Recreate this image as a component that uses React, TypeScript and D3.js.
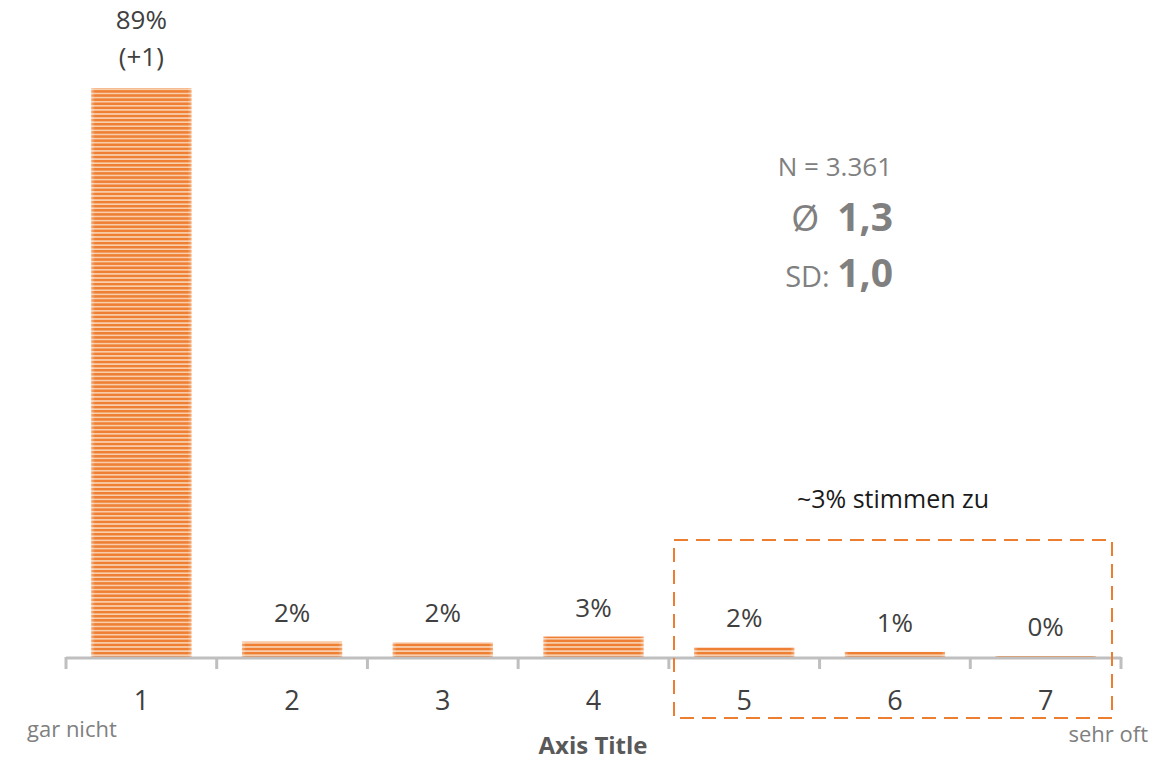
import React from "react";
import * as d3 from "d3";

const categories = ["1", "2", "3", "4", "5", "6", "7"];
const values = [89, 2.4, 2.3, 3.2, 1.5, 0.8, 0.15];
const valueLabels = ["89%", "2%", "2%", "3%", "2%", "1%", "0%"];
const topExtra = "(+1)";
const statsN = "N = 3.361";
const statsMean = "1,3";
const statsSD = "1,0";
const agreeText = "~3% stimmen zu";
const axisTitle = "Axis Title";
const leftAnchor = "gar nicht";
const rightAnchor = "sehr oft";

const W = 1170;
const H = 761;
const FONT = "'Open Sans', 'Noto Sans', sans-serif";

export default function App() {
  const x = d3.scaleBand<string>().domain(categories).range([66, 1121]).paddingInner(0.335).paddingOuter(0.1675);
  const y = d3.scaleLinear().domain([0, 100]).range([657, 18]);
  const step = x.step();
  const edges = categories.map((c) => (x(c) as number) - (step - x.bandwidth()) / 2);
  edges.push(edges[edges.length - 1] + step);
  const base = y(0);

  return (
    <svg width={W} height={H} style={{ position: "absolute", left: 0, top: 0 }}>
      <defs>
        <pattern id="stripes" patternUnits="userSpaceOnUse" width="8" height="4.1">
          <rect width="8" height="4.1" fill="#F9CFAE" />
          <rect width="8" height="2.5" fill="#EE7F33" />
        </pattern>
        <linearGradient id="edge" x1="0" x2="1" y1="0" y2="0">
          <stop offset="0" stopColor="#fff" stopOpacity="0.35" />
          <stop offset="0.04" stopColor="#fff" stopOpacity="0" />
          <stop offset="0.96" stopColor="#fff" stopOpacity="0" />
          <stop offset="1" stopColor="#fff" stopOpacity="0.35" />
        </linearGradient>
      </defs>
      <rect width={W} height={H} fill="#fff" />
      {categories.map((c, i) => {
        const top = y(values[i]);
        const h = base - top;
        return (
          <g key={c}>
            <rect x={x(c)} y={top} width={x.bandwidth()} height={h} fill="url(#stripes)" />
            <rect x={x(c)} y={top} width={x.bandwidth()} height={h} fill="url(#edge)" />
          </g>
        );
      })}
      {/* axis */}
      <line x1={edges[0]} x2={edges[edges.length - 1]} y1={base + 1} y2={base + 1} stroke="#BFBFBF" strokeWidth={3} />
      {edges.map((e, i) => (
        <line key={i} x1={e} x2={e} y1={base} y2={base + 12} stroke="#BFBFBF" strokeWidth={3} />
      ))}
      {categories.map((c, i) => (
        <text key={c} x={(x(c) as number) + x.bandwidth() / 2} y={710} textAnchor="middle" fontFamily={FONT} fontSize={27} fill="#404040">
          {c}
        </text>
      ))}
      {/* value labels */}
      {categories.map((c, i) => {
        const cx = (x(c) as number) + x.bandwidth() / 2;
        if (i === 0) {
          return (
            <g key={c}>
              <text x={cx} y={29} textAnchor="middle" fontFamily={FONT} fontSize={26} fill="#404040">{valueLabels[i]}</text>
              <text x={cx} y={66} textAnchor="middle" fontFamily={FONT} fontSize={26} fill="#404040">{topExtra}</text>
            </g>
          );
        }
        return (
          <text key={c} x={cx} y={y(values[i]) - 20} textAnchor="middle" fontFamily={FONT} fontSize={26} fill="#404040">
            {valueLabels[i]}
          </text>
        );
      })}
      {/* stats */}
      <text x={892} y={176} textAnchor="end" fontFamily={FONT} fontSize={26} fill="#808080">{statsN}</text>
      <text x={893} y={231} textAnchor="end" fontFamily={FONT} fill="#808080">
        <tspan fontSize={36}>Ø</tspan>
        <tspan fontSize={39} fontWeight="bold" dx={18}>{statsMean}</tspan>
      </text>
      <text x={893} y={287} textAnchor="end" fontFamily={FONT} fill="#808080">
        <tspan fontSize={29}>SD: </tspan>
        <tspan fontSize={39} fontWeight="bold">{statsSD}</tspan>
      </text>
      {/* agree box */}
      <text x={893} y={508} textAnchor="middle" fontFamily={FONT} fontSize={25} fill="#1a1a1a">{agreeText}</text>
      <rect x={674} y={540} width={438} height={178} fill="none" stroke="#ED7D31" strokeWidth={2} strokeDasharray="14 8" />
      {/* anchors */}
      <text x={27} y={737} fontFamily={FONT} fontSize={22} fill="#808080">{leftAnchor}</text>
      <text x={1148} y={742} textAnchor="end" fontFamily={FONT} fontSize={22} fill="#808080">{rightAnchor}</text>
      <text x={593} y={754} textAnchor="middle" fontFamily={FONT} fontSize={24} fontWeight="bold" fill="#595959">{axisTitle}</text>
    </svg>
  );
}
